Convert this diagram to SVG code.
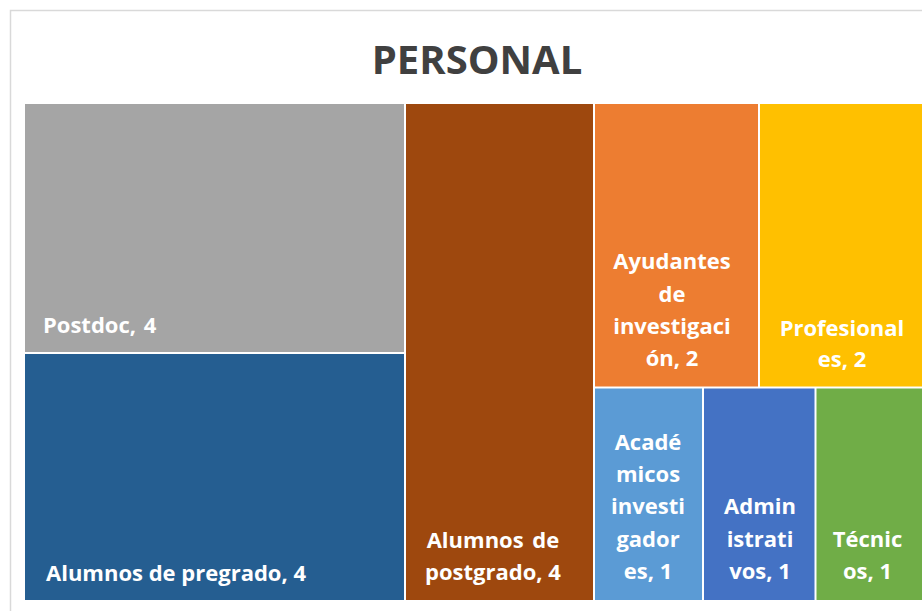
<svg xmlns="http://www.w3.org/2000/svg" width="922" height="611" viewBox="0 0 922 611">
<style>
.lbl{font-family:"Open Sans","Liberation Sans",sans-serif;font-weight:bold;font-size:22px;fill:#ffffff}
.c{text-anchor:middle}
.title{font-family:"Open Sans","Liberation Sans",sans-serif;font-weight:bold;font-size:40px;fill:#404040;text-anchor:middle}
</style>
<rect x="0" y="0" width="922" height="611" fill="#ffffff"/>
<rect x="10.5" y="10.5" width="1000" height="700" fill="#ffffff" stroke="#d9d9d9" stroke-width="1.5"/>
<text class="title" x="477" y="74">PERSONAL</text>
<g id="postdoc">
<rect x="25" y="104" width="379" height="248" fill="#A5A5A5"/>
<text class="lbl" x="43" y="333" word-spacing="2">Postdoc, 4</text>
</g>
<g id="pregrado">
<rect x="25" y="354" width="379" height="246" fill="#255E91"/>
<text class="lbl" x="46" y="581">Alumnos de pregrado, 4</text>
</g>
<g id="postgrado">
<rect x="406" y="104" width="187" height="496" fill="#9E480E"/>
<text class="lbl c" x="493" y="548" word-spacing="3">Alumnos de</text>
<text class="lbl c" x="493" y="580">postgrado, 4</text>
</g>
<g id="ayudantes">
<rect x="595" y="104" width="163" height="282.5" fill="#ED7D31"/>
<text class="lbl c" x="672" y="269">Ayudantes</text>
<text class="lbl c" x="672" y="301.5">de</text>
<text class="lbl c" x="672" y="334">investigaci</text>
<text class="lbl c" x="672" y="366">ón, 2</text>
</g>
<g id="profesionales">
<rect x="760" y="104" width="170" height="282.5" fill="#FFC000"/>
<text class="lbl c" x="842" y="336">Profesional</text>
<text class="lbl c" x="842" y="367">es, 2</text>
</g>
<g id="academicos">
<rect x="595" y="388.5" width="107" height="211.5" fill="#5B9BD5"/>
<text class="lbl c" x="648" y="450">Acadé</text>
<text class="lbl c" x="648" y="482">micos</text>
<text class="lbl c" x="648" y="514">investi</text>
<text class="lbl c" x="648" y="546.5">gador</text>
<text class="lbl c" x="648" y="578.5">es, 1</text>
</g>
<g id="administrativos">
<rect x="704" y="388.5" width="110.5" height="211.5" fill="#4472C4"/>
<text class="lbl c" x="760" y="514">Admin</text>
<text class="lbl c" x="760" y="546.5">istrati</text>
<text class="lbl c" x="760" y="578.5">vos, 1</text>
</g>
<g id="tecnicos">
<rect x="816.5" y="388.5" width="120" height="211.5" fill="#70AD47"/>
<text class="lbl c" x="867.5" y="546.5">Técnic</text>
<text class="lbl c" x="867.5" y="578.5">os, 1</text>
</g>
<g id="connectors"></g>
</svg>
